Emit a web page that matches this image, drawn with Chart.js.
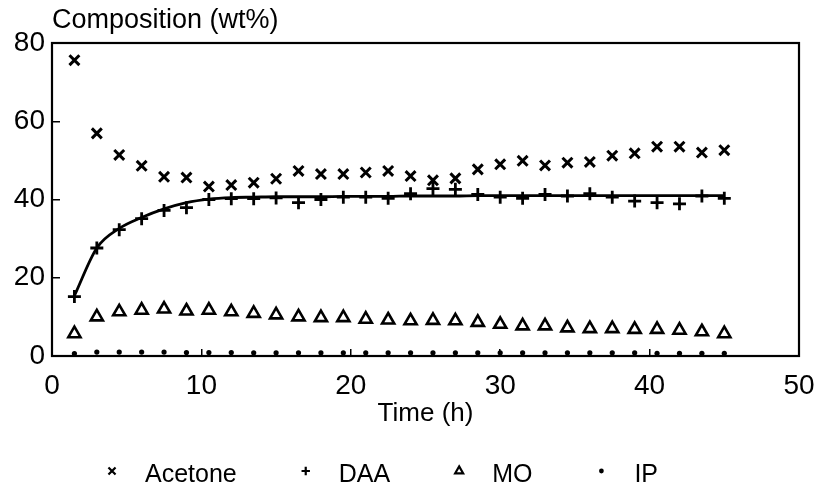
<!DOCTYPE html>
<html>
<head>
<meta charset="utf-8">
<script src="https://cdn.jsdelivr.net/npm/chart.js@4.4.1/dist/chart.umd.min.js"></script>
<style>
  html, body { margin: 0; padding: 0; background: #ffffff; }
  #wrap { width: 818px; height: 495px; }
</style>
</head>
<body>
<div id="wrap"><canvas id="chart" width="818" height="495"></canvas></div>
<script>
// Sampling times (h)
const hours = [1.5, 3, 4.5, 6, 7.5, 9, 10.5, 12, 13.5, 15,
               16.5, 18, 19.5, 21, 22.5, 24, 25.5, 27, 28.5, 30,
               31.5, 33, 34.5, 36, 37.5, 39, 40.5, 42, 43.5, 45];

// Composition of the product stream (wt%)
const acetone = [75.6, 56.9, 51.4, 48.6, 45.8, 45.6, 43.3, 43.7, 44.3, 45.3,
                 47.3, 46.5, 46.5, 46.9, 47.3, 46.0, 44.9, 45.4, 47.7, 49.0,
                 49.9, 48.7, 49.4, 49.6, 51.2, 51.8, 53.5, 53.5, 52.0, 52.6];
const daa     = [15.2, 27.6, 32.3, 35.1, 37.2, 37.9, 40.0, 40.2, 40.2, 40.4,
                 39.2, 40.0, 40.6, 40.6, 40.3, 41.5, 42.8, 42.6, 41.3, 40.6,
                 40.3, 41.3, 40.9, 41.5, 40.6, 39.6, 39.2, 38.9, 40.9, 40.3];
const daaFit  = [15.4, 27.6, 32.6, 35.4, 37.6, 39.2, 40.1, 40.5, 40.6, 40.7,
                 40.7, 40.7, 40.8, 40.8, 40.8, 40.9, 40.9, 40.9, 41.0, 41.0,
                 41.0, 41.0, 41.0, 41.0, 41.0, 41.0, 41.0, 41.0, 41.0, 41.0];
const mo      = [5.7, 10.0, 11.3, 11.7, 12.0, 11.5, 11.7, 11.3, 10.9, 10.5,
                 10.0, 9.8, 9.8, 9.4, 9.2, 9.0, 9.1, 9.0, 8.6, 8.1,
                 7.7, 7.7, 7.2, 7.0, 7.0, 6.8, 6.8, 6.6, 6.2, 5.7];
const ip      = [0.6, 1.0, 1.0, 1.0, 1.0, 0.9, 0.9, 0.9, 0.8, 0.8,
                 0.8, 0.8, 0.8, 0.8, 0.8, 0.8, 0.8, 0.8, 0.8, 0.8,
                 0.8, 0.8, 0.8, 0.8, 0.8, 0.8, 0.7, 0.7, 0.7, 0.7];

// Axis ticks
const xTicks = [0, 10, 20, 30, 40, 50];
const yTicks = [0, 20, 40, 60, 80];

const FONT = "'Liberation Sans', Arial, Helvetica, sans-serif";
const pts = vals => hours.map((h, i) => ({ x: h, y: vals[i] }));

// Closed box around the plotting area
const framePlugin = {
  id: 'frame',
  afterDatasetsDraw(chart) {
    const { ctx, chartArea: a } = chart;
    ctx.save();
    ctx.strokeStyle = '#000';
    ctx.lineWidth = 2.2;
    ctx.strokeRect(a.left, a.top, a.right - a.left, a.bottom - a.top);
    ctx.restore();
  }
};

// Single-row key under the axis: small glyph followed by the series name
const keyPlugin = {
  id: 'seriesKey',
  afterDraw(chart, args, opts) {
    const ctx = chart.ctx;
    const drawPoint = Chart.helpers.drawPoint;
    ctx.save();
    ctx.font = opts.font;
    ctx.textBaseline = 'middle';
    ctx.textAlign = 'left';
    let x = opts.startX;
    chart.data.datasets.forEach(ds => {
      if (!ds.keyRadius) return;
      ctx.fillStyle = ds.keyFill;
      ctx.strokeStyle = '#000';
      ctx.lineWidth = ds.keyBorder;
      drawPoint(ctx, { pointStyle: ds.pointStyle, radius: ds.keyRadius, borderWidth: ds.keyBorder, rotation: 0 }, x, opts.markerY);
      ctx.fillStyle = '#000';
      ctx.fillText(ds.label, x + opts.textGap, opts.textY);
      x += opts.textGap + ctx.measureText(ds.label).width + opts.itemGap;
    });
    ctx.restore();
  }
};

new Chart(document.getElementById('chart'), {
  type: 'scatter',
  data: {
    datasets: [
      {
        label: 'Acetone', data: pts(acetone),
        pointStyle: 'crossRot', pointRadius: 7, pointBorderWidth: 3,
        borderColor: '#000', backgroundColor: '#000',
        keyRadius: 5, keyBorder: 2.2, keyFill: '#000'
      },
      {
        label: 'DAA', data: pts(daa),
        pointStyle: 'cross', pointRadius: 6.5, pointBorderWidth: 2.8,
        borderColor: '#000', backgroundColor: '#000',
        keyRadius: 4.2, keyBorder: 2.2, keyFill: '#000'
      },
      {
        label: 'MO', data: pts(mo),
        pointStyle: 'triangle', pointRadius: 7, pointBorderWidth: 2.6,
        borderColor: '#000', backgroundColor: '#fff',
        keyRadius: 4.6, keyBorder: 2.2, keyFill: '#fff'
      },
      {
        label: 'IP', data: pts(ip),
        pointStyle: 'circle', pointRadius: 2.6, pointBorderWidth: 0,
        borderColor: '#000', backgroundColor: '#000',
        keyRadius: 2.4, keyBorder: 0, keyFill: '#000'
      },
      {
        label: 'DAA fit', data: pts(daaFit), type: 'line',
        showLine: true, pointRadius: 0, borderColor: '#000', borderWidth: 2.8,
        cubicInterpolationMode: 'monotone', fill: false
      }
    ]
  },
  options: {
    responsive: false,
    animation: false,
    devicePixelRatio: 1,
    events: [],
    layout: { padding: { left: 0, right: 19, top: 0, bottom: 62 } },
    plugins: {
      legend: { display: false },
      tooltip: { enabled: false },
      title: {
        display: true, text: 'Composition (wt%)', align: 'start', fullSize: false,
        color: '#000', font: { family: FONT, size: 27, weight: 'normal', lineHeight: 1.2 },
        padding: { top: 4, bottom: 6.6 }
      },
      seriesKey: {
        font: `25px ${FONT}`, startX: 112, markerY: 471, textY: 475, textGap: 33, itemGap: 69
      }
    },
    scales: {
      x: {
        type: 'linear', min: 0, max: 50,
        afterBuildTicks: s => { s.ticks = xTicks.map(v => ({ value: v })); },
        afterFit: s => { s.height = 77; s.paddingLeft = 0; s.paddingRight = 16; },
        ticks: { color: '#000', font: { family: FONT, size: 28 }, padding: 20, maxRotation: 0 },
        grid: { display: true, drawOnChartArea: false, drawTicks: true, tickLength: -7, color: '#000', lineWidth: 1.5 },
        border: { display: false },
        title: {
          display: true, text: 'Time (h)', color: '#000',
          font: { family: FONT, size: 26, lineHeight: 1.2 }, padding: { top: 0, bottom: 4 }
        }
      },
      y: {
        type: 'linear', min: 0, max: 80,
        afterBuildTicks: s => { s.ticks = yTicks.map(v => ({ value: v })); },
        afterFit: s => { s.width = 52; },
        ticks: { color: '#000', font: { family: FONT, size: 28 }, padding: 15 },
        grid: { display: true, drawOnChartArea: false, drawTicks: true, tickLength: -8, color: '#000', lineWidth: 1.5 },
        border: { display: false }
      }
    }
  },
  plugins: [framePlugin, keyPlugin]
});
</script>
</body>
</html>
